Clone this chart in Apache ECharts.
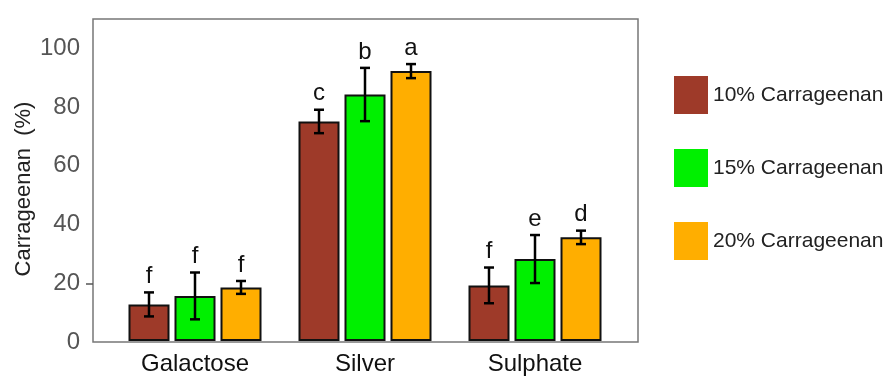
<!DOCTYPE html>
<html><head><meta charset="utf-8">
<script src="https://cdn.jsdelivr.net/npm/echarts@6/dist/echarts.min.js"></script>
<style>html,body{margin:0;padding:0;background:#fff}#c{width:889px;height:376px}</style>
</head><body><div id="c"></div>
<script>
const categories = ['Galactose', 'Silver', 'Sulphate'];
const seriesNames = ['10% Carrageenan', '15% Carrageenan', '20% Carrageenan'];
const means10 = [12.5, 75.0, 19.0];
const means15 = [15.4, 84.2, 28.0];
const means20 = [18.3, 92.2, 35.4];
const err10 = [4.1, 4.0, 6.1];
const err15 = [8.0, 9.1, 8.2];
const err20 = [2.2, 2.4, 2.3];
const letters10 = ['f', 'c', 'f'];
const letters15 = ['f', 'b', 'e'];
const letters20 = ['f', 'a', 'd'];
const yTickLabels = [0, 20, 40, 60, 80, 100];
const yAxisTitle = 'Carrageenan  (%)';

const colors = ['#9e3a29', '#00f000', '#ffae00'];
const means = [means10, means15, means20];
const errs = [err10, err15, err20];
const letters = [letters10, letters15, letters20];
const BW = 41, GAP = 5;
const FONT = '"Liberation Sans", Arial, sans-serif';

const chart = echarts.init(document.getElementById('c'));
const series = [];
means.forEach((m, i) => {
  series.push({
    name: seriesNames[i], type: 'bar', xAxisIndex: 1, yAxisIndex: 1,
    data: m, barWidth: BW, barGap: (GAP / BW * 100) + '%',
    itemStyle: { color: colors[i], borderColor: '#111', borderWidth: 2 },
    emphasis: { disabled: true }
  });
});
means.forEach((m, i) => {
  const off = (i - 1) * (BW + GAP);
  series.push({
    type: 'custom', xAxisIndex: 1, yAxisIndex: 1, z: 5, silent: true,
    data: m.map((v, k) => [k, v - errs[i][k], v + errs[i][k]]),
    renderItem: function (params, api) {
      const cx = api.coord([api.value(0), 0])[0] + off;
      const lo = api.coord([api.value(0), api.value(1)])[1];
      const hi = api.coord([api.value(0), api.value(2)])[1];
      const st = { stroke: '#000', lineWidth: 2.5 };
      return { type: 'group', children: [
        { type: 'line', shape: { x1: cx, y1: lo, x2: cx, y2: hi }, style: st },
        { type: 'line', shape: { x1: cx - 5, y1: lo, x2: cx + 5, y2: lo }, style: st },
        { type: 'line', shape: { x1: cx - 5, y1: hi, x2: cx + 5, y2: hi }, style: st },
        { type: 'text', style: { x: cx, y: hi - 4, text: letters[i][params.dataIndex],
          fill: '#111', font: '24px ' + FONT, textAlign: 'center', textVerticalAlign: 'bottom' } }
      ]};
    }
  });
});

chart.setOption({
  animation: false,
  textStyle: { fontFamily: FONT },
  legend: {
    orient: 'vertical', left: 669, top: 71, itemWidth: 34, itemHeight: 38, itemGap: 35,
    icon: 'rect', data: seriesNames,
    itemStyle: { borderWidth: 0 },
    textStyle: { fontSize: 21, color: '#222', fontFamily: FONT }
  },
  graphic: [{
    type: 'text', x: 24, y: 189, rotation: Math.PI / 2,
    style: { text: yAxisTitle, font: '22px ' + FONT, fill: '#222', textAlign: 'center', textVerticalAlign: 'middle' }
  }],
  grid: [
    { left: 93, top: 19, width: 545, height: 323, show: true, borderColor: '#777', borderWidth: 1.5, backgroundColor: 'transparent' },
    { left: 110, top: 19, width: 510, height: 323 }
  ],
  xAxis: [
    { type: 'value', gridIndex: 0, show: false, min: 0, max: 1 },
    { type: 'category', gridIndex: 1, data: categories,
      axisLine: { show: false }, axisTick: { show: false },
      axisLabel: { fontSize: 24, color: '#111', margin: 11, fontFamily: FONT } }
  ],
  yAxis: [
    { type: 'value', gridIndex: 0, min: 0, max: 110, interval: 10,
      axisLine: { show: false }, splitLine: { show: false },
      axisTick: { show: true, customValues: [20], length: 7, lineStyle: { color: '#555', width: 1.5 } },
      axisLabel: { customValues: yTickLabels, fontSize: 24, color: '#555', margin: 13, fontFamily: FONT } },
    { type: 'value', gridIndex: 1, min: 0, max: 110, show: false }
  ],
  series: series
});
</script></body></html>
